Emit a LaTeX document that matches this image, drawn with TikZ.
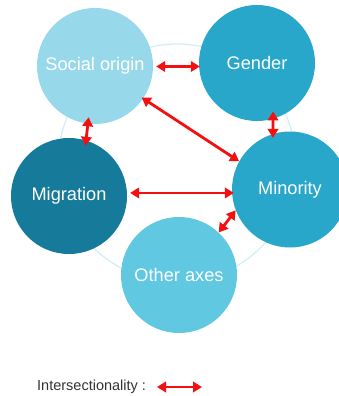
\documentclass[tikz,border=0pt]{standalone}
\usepackage{fontspec}
\setmainfont{Liberation Sans}
\usetikzlibrary{arrows.meta}
\definecolor{cSocial}{HTML}{97D9EA}
\definecolor{cGender}{HTML}{29A7CA}
\definecolor{cMinority}{HTML}{29A7CA}
\definecolor{cMigration}{HTML}{167A9B}
\definecolor{cOther}{HTML}{60C8E0}
\definecolor{cRing}{HTML}{D3EEF6}
\definecolor{arrowred}{HTML}{F21010}
\definecolor{textgray}{HTML}{333333}
\begin{document}
\begin{tikzpicture}[x=1pt,y=-1pt,
  topic/.style={circle, minimum size=116pt, inner sep=0pt, text=white,
    font=\fontsize{18.2}{20}\selectfont},
  link/.style={draw=arrowred, line width=2.8pt,
    {Triangle[length=9pt,width=10.5pt]}-{Triangle[length=9pt,width=10.5pt]}},
  ring/.style={draw=cRing, line width=1.3pt}
  ]
\useasboundingbox (0,0) rectangle (339,396);
\clip (0,0) rectangle (339,396);
\draw[ring] (177,163) circle[radius=119];
\node[topic, fill=cSocial] (so) at (95,66) {Social origin};
\node[topic, fill=cGender] (gen) at (257,63) {Gender};
\node[topic, fill=cMinority] (min) at (290,189.5) {Minority};
\node[topic, fill=cMigration] (mig) at (69,196) {Migration};
\node[topic, fill=cOther] (oa) at (179,275) {Other axes};
\draw[link, shorten <=3pt, shorten >=-1pt] ([yshift=-0.5pt]so.east) -- ([yshift=-0.5pt]so.east -| gen.west);
\draw[link, shorten <=-6.5pt, shorten >=-5.5pt] (so.263) -- (mig.73);
\draw[link, shorten <=-7.5pt, shorten >=-4pt] (gen.286) -- (min.107);
\draw[link, shorten <=-2pt] (so.326) -- (min.151);
\draw[link, shorten <=3pt, shorten >=-2pt] (mig.3) -- (mig.3 -| min.west);
\draw[link] (oa.47) -- (min.201);
\node[anchor=west, inner sep=0pt, text=textgray,
  font=\fontsize{14.5}{16}\selectfont] (leg) at (37,387) {Intersectionality :};
\coordinate (la) at (157,387);
\coordinate (lb) at (202,387);
\draw[link] (la) -- (lb);
\end{tikzpicture}
\end{document}
